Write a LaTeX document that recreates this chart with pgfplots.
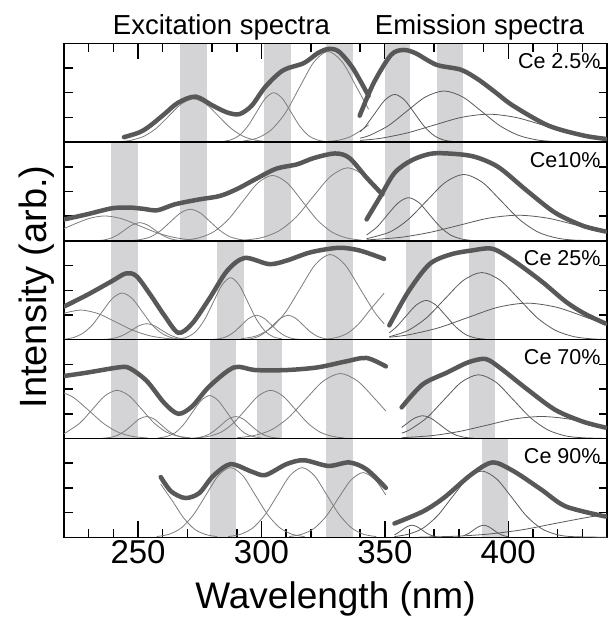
\documentclass[border=0pt]{standalone}
\usepackage{fontspec}
\setmainfont{Liberation Sans}
\usepackage{pgfplots}
\pgfplotsset{compat=1.18}
\definecolor{bandc}{RGB}{212,212,214}
\definecolor{thickc}{RGB}{88,88,88}
\definecolor{thinx}{RGB}{125,125,125}
\definecolor{thinm}{RGB}{90,90,90}
\tikzset{lab/.style={anchor=base east,font=\fontsize{21.5}{24}\selectfont,xshift=-3pt,yshift=-25pt}}
\pgfplotsset{
  panel/.style={width=543pt,height=98.8pt,scale only axis,
    xmin=220,xmax=440,ymin=0,ymax=4,
    ytick={0,4}, yticklabels={}, minor ytick={1,2,3}, ytick pos=both,
    xtick=\empty,
    tick align=inside,
    major tick length=16pt, minor tick length=8.5pt,
    tick style={black,line width=1.5pt},
    axis line style={black,line width=1.3pt},
    clip mode=individual,
    /pgf/number format/assume math mode=true,
  },
  band/.style={draw=none,fill=bandc},
  thk/.style={line width=4.5pt,color=thickc,smooth,line cap=round,line join=round},
  tex/.style={line width=0.8pt,color=thinx,smooth},
  tem/.style={line width=0.8pt,color=thinm,smooth},
}
\newcommand{\band}[2]{\addplot[band] coordinates {(#1,0.03)(#1,3.97)(#2,3.97)(#2,0.03)} -- cycle;}
% tick mark drawn as a thin filled bar: left x, right x, y from, y to
\newcommand{\tkm}[4]{\addplot[fill=black,draw=none,forget plot] coordinates {(#1,#3)(#1,#4)(#2,#4)(#2,#3)} -- cycle;}
\begin{document}
\begin{tikzpicture}
\path[use as bounding box] (-64pt,43.3pt) rectangle (544pt,-574.7pt);
% ---------------- Panel 1: Ce 2.5%
\begin{axis}[panel, name=p1, at={(0,0)}, anchor=north west]
\tkm{229.7}{230.3}{3.65}{4}\tkm{239.7}{240.3}{3.65}{4}\tkm{249.7}{250.3}{3.35}{4}\tkm{259.7}{260.3}{3.65}{4}
\tkm{269.7}{270.3}{3.65}{4}\tkm{279.7}{280.3}{3.65}{4}\tkm{289.7}{290.3}{3.65}{4}\tkm{299.7}{300.3}{3.35}{4}
\tkm{309.7}{310.3}{3.65}{4}\tkm{319.7}{320.3}{3.65}{4}\tkm{329.7}{330.3}{3.65}{4}\tkm{339.7}{340.3}{3.65}{4}
\tkm{349.7}{350.3}{3.35}{4}\tkm{359.7}{360.3}{3.65}{4}\tkm{369.7}{370.3}{3.65}{4}\tkm{379.7}{380.3}{3.65}{4}
\tkm{389.7}{390.3}{3.65}{4}\tkm{399.7}{400.3}{3.35}{4}\tkm{409.7}{410.3}{3.65}{4}\tkm{419.7}{420.3}{3.65}{4}
\tkm{429.7}{430.3}{3.65}{4}
\band{267}{278}\band{301}{312}\band{326}{337}\band{350}{360}\band{371}{381.5}
\addplot[tex] coordinates {(244,0.03)(247.5,0.08)(252.5,0.24)(257.5,0.57)(262.5,1.06)(267.5,1.54)(272.5,1.75)(277.5,1.54)(282.5,1.06)(287.5,0.57)(292.5,0.24)(297.5,0.08)(302.5,0.02)(307,0)};
\addplot[tex] coordinates {(284,0.02)(287.5,0.09)(291,0.27)(294.5,0.65)(298,1.21)(301.5,1.76)(305,2.0)(308.5,1.76)(312,1.21)(315.5,0.65)(319,0.27)(322.5,0.09)(326,0.02)};
\addplot[tex] coordinates {(292.5,0.04)(298.25,0.16)(304,0.5)(309.75,1.19)(315.5,2.23)(321.25,3.24)(327,3.67)(332.75,3.24)(338.5,2.23)(343.4,1.33)};
\addplot[tex] coordinates {(326,0.02)(331,0.07)(336,0.22)(341,0.52)(343.4,0.7)};
\addplot[tem] coordinates {(340,0.42)(342,0.62)(346,1.17)(350,1.7)(354,1.93)(358,1.7)(362,1.17)(366,0.63)(370,0.26)(374,0.08)(378,0.02)};
\addplot[tem] coordinates {(340,0.16)(344,0.28)(351.5,0.67)(359,1.26)(366.5,1.83)(374,2.07)(381.5,1.83)(389,1.26)(396.5,0.67)(404,0.28)(411.5,0.09)(419,0.02)(430,0)};
\addplot[tem] coordinates {(340,0.07)(348,0.15)(359,0.37)(370,0.69)(381,1.0)(392,1.13)(403,1.0)(414,0.69)(425,0.37)(436,0.15)(440,0.1)};
\addplot[thk] coordinates {(244.3,0.2)(250.7,0.4)(255,0.67)(260.6,1.13)(266.3,1.6)(273.3,1.84)(280.4,1.47)(286.1,1.2)(291,1.13)(296,1.47)(301.6,2.24)(308.7,2.9)(317.2,3.2)(322.8,3.6)(327.1,3.77)(331.3,3.67)(337,3.0)(343.4,1.87)};
\addplot[thk] coordinates {(339.8,1.07)(345.5,2.4)(352.5,3.53)(357.5,3.73)(362.4,3.6)(370.9,3.13)(380.8,2.93)(387.9,2.53)(395,2.0)(402,1.47)(416.2,0.67)(430.3,0.27)(439.5,0.13)};
\node[lab] at (rel axis cs:1,1) {Ce 2.5\%};
\node[anchor=base,font=\fontsize{27.5}{30}\selectfont] at (axis cs:283.8,4.336) {Excitation spectra};
\node[anchor=base,font=\fontsize{27.5}{30}\selectfont] at (axis cs:388.4,4.336) {Emission spectra};
\end{axis}
% ---------------- Panel 2: Ce10%
\begin{axis}[panel, name=p2, at={(p1.south west)}, anchor=north west]
\band{239}{250}\band{267}{278}\band{301}{312}\band{326}{337}\band{350}{360}\band{371}{381.5}
\addplot[tex] coordinates {(220,0.5)(229.6,0.89)(236.6,1.01)(243.6,0.89)(250.6,0.61)(257.6,0.33)(264.6,0.14)(271.6,0.04)(278.6,0.01)};
\addplot[tex] coordinates {(232.7,0.01)(235.7,0.03)(238.7,0.1)(241.7,0.24)(244.7,0.45)(247.7,0.65)(250.7,0.74)(253.7,0.65)(256.7,0.45)(259.7,0.24)(262.7,0.1)(265.7,0.03)(268.7,0.01)};
\addplot[tex] coordinates {(247.2,0.01)(251.2,0.06)(255.2,0.17)(259.2,0.42)(263.2,0.78)(267.2,1.13)(271.2,1.28)(275.2,1.13)(279.2,0.78)(283.2,0.42)(287.2,0.17)(291.2,0.06)(295.2,0.01)};
\addplot[tex] coordinates {(268.5,0.03)(274.5,0.12)(280.5,0.36)(286.5,0.86)(292.5,1.61)(298.5,2.34)(304.5,2.65)(310.5,2.34)(316.5,1.61)(322.5,0.86)(328.5,0.36)(334.5,0.12)(340.5,0.03)};
\addplot[tex] coordinates {(293,0.03)(300,0.13)(307,0.4)(314,0.96)(321,1.8)(328,2.61)(335,2.96)(342,2.61)(349,1.8)};
\addplot[tem] coordinates {(342.6,0.24)(346.9,0.57)(351.1,1.06)(355.4,1.54)(359.6,1.75)(363.9,1.54)(368.1,1.06)(372.4,0.57)(376.6,0.24)(380.9,0.08)(385.1,0.02)};
\addplot[tem] coordinates {(342.6,0.09)(352,0.36)(359.5,0.87)(367,1.63)(374.5,2.37)(382,2.69)(389.5,2.37)(397,1.63)(404.5,0.87)(412,0.36)(419.5,0.12)(427,0.03)(440,0)};
\addplot[tem] coordinates {(342.6,0.04)(356,0.14)(368,0.34)(380,0.63)(392,0.92)(404,1.04)(416,0.92)(428,0.63)(440,0.34)};
\addplot[thk] coordinates {(220,0.87)(229.5,1.08)(239.4,1.32)(246.5,1.35)(252,1.3)(257.8,1.24)(264.9,1.48)(274.8,1.68)(283.2,1.82)(290.3,2.11)(297.4,2.49)(305.9,2.92)(314.4,3.1)(321.4,3.36)(329.9,3.54)(335.6,3.36)(342.6,2.56)(349,1.88)};
\addplot[thk] coordinates {(342.6,0.87)(348.3,1.82)(354,2.76)(361,3.27)(369.5,3.54)(380.8,3.5)(387.9,3.36)(396.4,2.96)(407.7,2.02)(419,1.14)(430.3,0.61)(439.5,0.38)};
\node[lab] at (rel axis cs:1,1) {Ce10\%};
\end{axis}
% ---------------- Panel 3: Ce 25%
\begin{axis}[panel, name=p3, at={(p2.south west)}, anchor=north west]
\band{239}{250}\band{282}{293}\band{326}{337}\band{358.5}{369}\band{384}{394.5}
\addplot[tex] coordinates {(220,1.07)(226.7,1.2)(233.7,1.06)(240.7,0.73)(247.7,0.39)(254.7,0.16)(261.7,0.05)(268.7,0.01)};
\addplot[tex] coordinates {(220,0.02)(223.6,0.08)(227.6,0.26)(231.6,0.61)(235.6,1.15)(239.6,1.67)(243.6,1.89)(247.6,1.67)(251.6,1.15)(255.6,0.61)(259.6,0.26)(263.6,0.08)(267.6,0.02)};
\addplot[tex] coordinates {(235.5,0.01)(238.5,0.03)(241.5,0.09)(244.5,0.21)(247.5,0.39)(250.5,0.57)(253.5,0.65)(256.5,0.57)(259.5,0.39)(262.5,0.21)(265.5,0.09)(268.5,0.03)(271.5,0.01)};
\addplot[tex] coordinates {(266.5,0.03)(270,0.11)(273.5,0.34)(277,0.82)(280.5,1.52)(284,2.21)(287.5,2.51)(291,2.21)(294.5,1.52)(298,0.82)(301.5,0.34)(305,0.11)(308.5,0.03)};
\addplot[tex] coordinates {(280,0.01)(283,0.04)(286,0.13)(289,0.32)(292,0.6)(295,0.87)(298,0.99)(301,0.87)(304,0.6)(307,0.32)(310,0.13)(313,0.04)(316,0.01)};
\addplot[tex] coordinates {(292.8,0.01)(295.8,0.04)(298.8,0.13)(301.8,0.32)(304.8,0.6)(307.8,0.87)(310.8,0.99)(313.8,0.87)(316.8,0.6)(319.8,0.32)(322.8,0.13)(325.8,0.04)(328.8,0.01)};
\addplot[tex] coordinates {(291.8,0.04)(297.8,0.15)(303.8,0.47)(309.8,1.12)(315.8,2.09)(321.8,3.04)(327.8,3.45)(333.8,3.04)(339.8,2.09)(345.8,1.12)(349.7,0.65)};
\addplot[tex] coordinates {(326,0.02)(330.5,0.09)(335,0.27)(339.5,0.65)(344,1.21)(349.7,1.88)};
\addplot[tem] coordinates {(351.8,0.28)(354.7,0.52)(358.7,0.97)(362.7,1.4)(366.7,1.59)(370.7,1.4)(374.7,0.97)(378.7,0.52)(382.7,0.21)(386.7,0.07)(390.7,0.02)};
\addplot[tem] coordinates {(351.8,0.12)(359.3,0.37)(366.8,0.88)(374.3,1.65)(381.8,2.4)(389.3,2.72)(396.8,2.4)(404.3,1.65)(411.8,0.88)(419.3,0.37)(426.8,0.12)(434.3,0.03)(440,0.01)};
\addplot[tem] coordinates {(351.8,0.1)(359.7,0.2)(371.7,0.48)(383.7,0.9)(395.7,1.31)(407.7,1.48)(419.7,1.31)(431.7,0.9)(440,0.6)};
\addplot[thk] coordinates {(220,1.34)(229.5,1.82)(239.4,2.37)(245,2.68)(249.3,2.58)(255,1.82)(260.6,0.99)(266.3,0.28)(271.9,0.65)(279,1.68)(286.1,2.79)(293.2,3.31)(303.1,3.06)(310.1,3.2)(320,3.54)(331.3,3.72)(339.8,3.61)(349.7,3.27)};
\addplot[thk] coordinates {(351.8,0.58)(359.6,1.96)(368.1,3.06)(376.6,3.45)(385.1,3.61)(393.6,3.68)(402.1,3.2)(413.4,2.37)(423.3,1.54)(431,1.05)(439.5,0.65)};
\node[lab] at (rel axis cs:1,1) {Ce 25\%};
\end{axis}
% ---------------- Panel 4: Ce 70%
\begin{axis}[panel, name=p4, at={(p3.south west)}, anchor=north west]
\band{239}{250}\band{279}{289.5}\band{298}{308.5}\band{326}{337}\band{358.5}{369}\band{384}{394.5}
\addplot[tex] coordinates {(220,1.84)(224,1.65)(230,1.14)(236,0.61)(242,0.25)(248,0.08)(254,0.02)};
\addplot[tex] coordinates {(220,0.19)(226.5,0.63)(231.5,1.18)(236.5,1.72)(241.5,1.95)(246.5,1.72)(251.5,1.18)(256.5,0.63)(261.5,0.26)(266.5,0.09)(271.5,0.02)};
\addplot[tex] coordinates {(235.5,0.01)(238.5,0.04)(241.5,0.12)(244.5,0.29)(247.5,0.54)(250.5,0.79)(253.5,0.89)(256.5,0.79)(259.5,0.54)(262.5,0.29)(265.5,0.12)(268.5,0.04)(271.5,0.01)};
\addplot[tex] coordinates {(258,0.02)(261.5,0.08)(265,0.23)(268.5,0.57)(272,1.06)(275.5,1.53)(279,1.74)(282.5,1.53)(286,1.06)(289.5,0.57)(293,0.23)(296.5,0.08)(300,0.02)};
\addplot[tex] coordinates {(271.6,0.01)(274.6,0.04)(277.6,0.12)(280.6,0.29)(283.6,0.54)(286.6,0.79)(289.6,0.89)(292.6,0.79)(295.6,0.54)(298.6,0.29)(301.6,0.12)(304.6,0.04)(307.6,0.01)};
\addplot[tex] coordinates {(273.7,0.02)(278.7,0.09)(283.7,0.26)(288.7,0.63)(293.7,1.18)(298.7,1.72)(303.7,1.95)(308.7,1.72)(313.7,1.18)(318.7,0.63)(323.7,0.26)(328.7,0.09)(333.7,0.02)};
\addplot[tex] coordinates {(290,0.03)(297,0.12)(304,0.35)(311,0.85)(318,1.6)(325,2.32)(332,2.63)(339,2.32)(346,1.6)(350.4,1.11)};
\addplot[tem] coordinates {(356.8,0.44)(358.3,0.56)(361.8,0.81)(365.3,0.92)(368.8,0.81)(372.3,0.56)(375.8,0.3)(379.3,0.12)(382.8,0.04)(386.3,0.01)};
\addplot[tem] coordinates {(356.8,0.22)(360,0.35)(367,0.84)(374,1.57)(381,2.28)(388,2.58)(395,2.28)(402,1.57)(409,0.84)(416,0.35)(423,0.11)(430,0.03)(440,0)};
\addplot[tem] coordinates {(356.8,0.03)(369.4,0.12)(380.4,0.29)(391.4,0.54)(402.4,0.79)(413.4,0.89)(424.4,0.79)(435.4,0.54)(440,0.43)};
\addplot[thk] coordinates {(220,2.53)(229.5,2.67)(242.2,2.88)(246.5,2.85)(253.5,2.33)(260.6,1.44)(266.3,1.0)(271.9,1.3)(279,2.12)(288.9,2.88)(297.4,2.77)(310.1,2.77)(322.8,2.88)(334.2,3.12)(342.6,3.26)(350.4,2.92)};
\addplot[thk] coordinates {(356.8,1.26)(365.3,2.19)(375.2,2.67)(383.7,3.08)(390.7,3.22)(396.4,2.88)(407.7,1.99)(419,1.16)(430.3,0.68)(439.5,0.44)};
\node[lab] at (rel axis cs:1,1) {Ce 70\%};
\end{axis}
% ---------------- Panel 5: Ce 90%
\begin{axis}[panel, name=p5, at={(p4.south west)}, anchor=north west,
  xtick={250,300,350,400}, major tick length=0pt,
  xtick pos=left, xticklabel style={font=\fontsize{33}{36}\selectfont}]
\tkm{229.7}{230.3}{0}{0.35}\tkm{239.7}{240.3}{0}{0.35}\tkm{249.7}{250.3}{0}{0.65}\tkm{259.7}{260.3}{0}{0.35}
\tkm{269.7}{270.3}{0}{0.35}\tkm{279.7}{280.3}{0}{0.35}\tkm{289.7}{290.3}{0}{0.35}\tkm{299.7}{300.3}{0}{0.65}
\tkm{309.7}{310.3}{0}{0.35}\tkm{319.7}{320.3}{0}{0.35}\tkm{329.7}{330.3}{0}{0.35}\tkm{339.7}{340.3}{0}{0.35}
\tkm{349.7}{350.3}{0}{0.65}\tkm{359.7}{360.3}{0}{0.35}\tkm{369.7}{370.3}{0}{0.35}\tkm{379.7}{380.3}{0}{0.35}
\tkm{389.7}{390.3}{0}{0.35}\tkm{399.7}{400.3}{0}{0.65}\tkm{409.7}{410.3}{0}{0.35}\tkm{419.7}{420.3}{0}{0.35}
\tkm{429.7}{430.3}{0}{0.35}
\band{279}{289.5}\band{326}{337}\band{389.5}{400}
\addplot[tex] coordinates {(259.2,2.15)(264,1.46)(268.5,0.78)(273,0.32)(277.5,0.11)(282,0.03)};
\addplot[tex] coordinates {(257.5,0.03)(262.5,0.12)(267.5,0.38)(272.5,0.92)(277.5,1.71)(282.5,2.49)(287.5,2.82)(292.5,2.49)(297.5,1.71)(302.5,0.92)(307.5,0.38)(312.5,0.12)(317.5,0.03)};
\addplot[tex] coordinates {(286.5,0.03)(291.5,0.12)(296.5,0.38)(301.5,0.92)(306.5,1.71)(311.5,2.49)(316.5,2.82)(321.5,2.49)(326.5,1.71)(331.5,0.92)(336.5,0.38)(341.5,0.12)(346.5,0.03)};
\addplot[tex] coordinates {(311.2,0.03)(316.2,0.12)(321.2,0.35)(326.2,0.85)(331.2,1.59)(336.2,2.31)(341.2,2.62)(346.2,2.31)(350.4,1.71)};
\addplot[tem] coordinates {(353.9,0.1)(355,0.16)(357,0.3)(359,0.43)(361,0.49)(363,0.43)(365,0.3)(367,0.16)(369,0.07)(371,0.02)};
\addplot[tem] coordinates {(353.9,0.03)(359.3,0.12)(365.3,0.36)(371.3,0.87)(377.3,1.63)(383.3,2.36)(389.3,2.68)(395.3,2.36)(401.3,1.63)(407.3,0.87)(413.3,0.36)(419.3,0.12)(425.3,0.03)(440,0)};
\addplot[tem] coordinates {(382,0.07)(384,0.16)(386,0.3)(388,0.43)(390,0.49)(392,0.43)(394,0.3)(396,0.16)(398,0.07)(400,0.02)};
\addplot[tem] coordinates {(364,0.01)(378,0.04)(392,0.13)(406,0.31)(420,0.58)(434,0.84)(440,0.91)};
\addplot[thk] coordinates {(259.2,2.44)(263.4,1.86)(269.1,1.59)(274.8,1.79)(280.4,2.48)(287.5,2.96)(296,2.66)(301.6,2.52)(310.1,2.96)(317.2,3.12)(327.1,2.89)(335.6,3.03)(342.6,2.75)(350.4,2.0)};
\addplot[thk] coordinates {(353.9,0.56)(365.3,1.04)(373.8,1.59)(385.1,2.55)(393.6,3.03)(402.1,2.68)(413.4,1.93)(423.3,1.25)(439.5,0.84)};
\node[lab] at (rel axis cs:1,1) {Ce 90\%};
\end{axis}
\node[anchor=base,font=\fontsize{37}{40}\selectfont] at ([yshift=-71.5pt]p5.south) {Wavelength (nm)};
\node[anchor=base,rotate=90,font=\fontsize{38}{40}\selectfont] at ([xshift=-17pt,yshift=-243.7pt]p1.north west) {Intensity (arb.)};
\end{tikzpicture}
\end{document}
